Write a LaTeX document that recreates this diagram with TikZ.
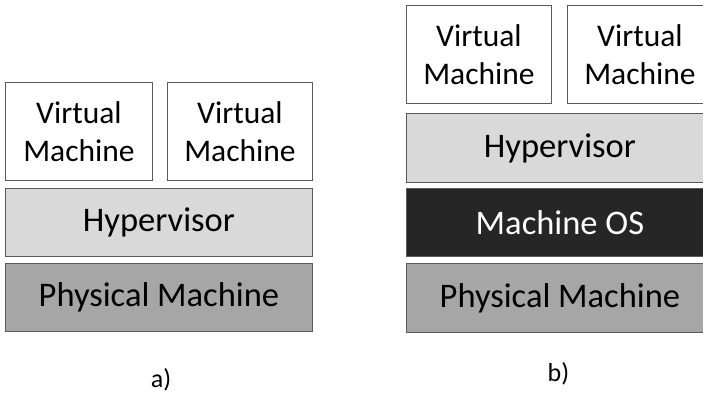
\documentclass[tikz,border=0pt]{standalone}
\usepackage{fontspec}
\setmainfont{Carlito}
\definecolor{hyp}{HTML}{D9D9D9}
\definecolor{phys}{HTML}{A6A6A6}
\definecolor{mos}{HTML}{262626}
\definecolor{edge}{HTML}{595959}
\tikzset{
  layer/.style={draw=edge, line width=0.9pt, anchor=north west, inner sep=0pt,
    font=\fontsize{34.5}{37}\selectfont, align=center, text=black},
  vm/.style={layer, fill=white, minimum width=147pt, minimum height=98pt,
    font=\fontsize{31.5}{38.5}\selectfont},
  wide/.style={layer, minimum width=307pt, minimum height=68pt},
  sublabel/.style={font=\fontsize{26}{30}\selectfont}
}
\begin{document}
\begin{tikzpicture}[x=1pt,y=-1pt]
\useasboundingbox (0,0) rectangle (703,394);
\begin{scope}
\clip (0,0) rectangle (703,394);
% a)
\node[vm] (avm1) at (5,82) {Virtual\\Machine};
\node[vm, minimum width=145pt] (avm2) at (167,82) {Virtual\\Machine};
\node[wide, fill=hyp] (ahyp) at (5,188) {Hypervisor};
\node[wide, fill=phys] (aphys) at (5,263) {Physical Machine};
\node[sublabel] (alab) at (161,380) {a)};
% b)
\node[vm, minimum width=145pt] (bvm1) at (406,5) {Virtual\\Machine};
\node[vm, minimum width=145pt] (bvm2) at (567,5) {Virtual\\Machine};
\node[wide, fill=hyp, minimum height=69pt] (bhyp) at (406,113) {Hypervisor};
\node[wide, fill=mos, text=white] (bos) at (406,188) {Machine OS};
\node[wide, fill=phys, minimum height=69pt] (bphys) at (406,263) {Physical Machine};
\node[sublabel] (blab) at (558.5,374) {b)};
\end{scope}
\end{tikzpicture}
\end{document}
